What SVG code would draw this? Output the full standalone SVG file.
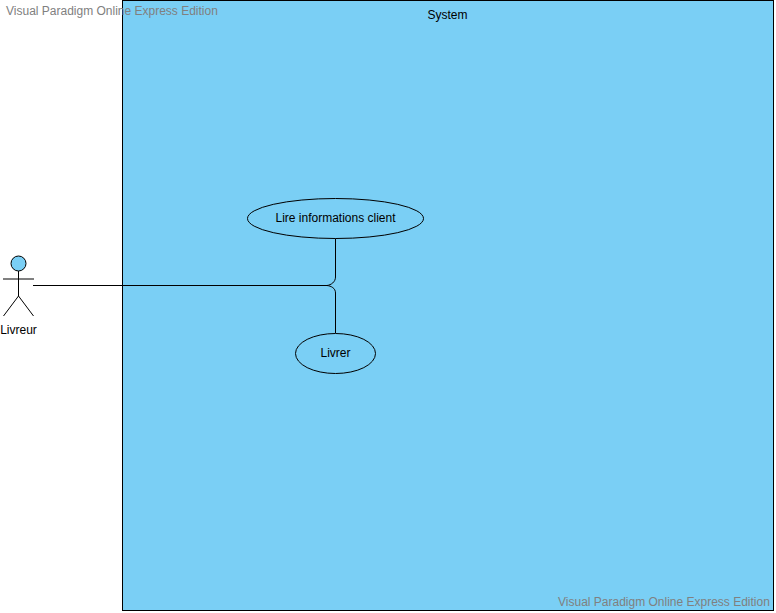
<svg xmlns="http://www.w3.org/2000/svg" width="776" height="613" viewBox="0 0 776 613">
<style>
text{font-family:"Liberation Sans",Arial,sans-serif;font-size:12px;fill:#000;text-anchor:middle}
.s{fill:#7ACFF5;stroke:#000;stroke-width:1}
.l{fill:none;stroke:#000;stroke-width:1}
.w{fill:#808080;text-anchor:start}
</style>
<rect width="776" height="613" fill="#fff"/>
<g id="system"><rect class="s" x="122.500" y="0.500" width="651" height="610"/><text x="447.500" y="19">System</text></g>
<g id="connectors">
<path class="l" d="M33 285.500H327C331 285 335.500 282 335.500 277V238.500"/>
<path class="l" d="M327 285.500C331 286 335.500 288 335.500 293V333"/>
</g>
<g id="lire"><ellipse class="s" cx="335.500" cy="218.500" rx="88" ry="20"/><text x="335.500" y="222">Lire informations client</text></g>
<g id="livrer"><ellipse class="s" cx="335.500" cy="353.500" rx="40" ry="20"/><text x="335.500" y="357">Livrer</text></g>
<g id="livreur">
<circle class="s" cx="18.500" cy="263.500" r="7.500"/>
<path fill="none" stroke="#000" d="M18.500 271V296M3 279H34M18.500 296L3.500 316M18.500 296L33.500 316"/>
<text x="18.500" y="334">Livreur</text>
</g>
<g id="watermarks">
<text class="w" x="6" y="15">Visual Paradigm Online Express Edition</text>
<text class="w" x="558" y="606">Visual Paradigm Online Express Edition</text>
</g>
</svg>
